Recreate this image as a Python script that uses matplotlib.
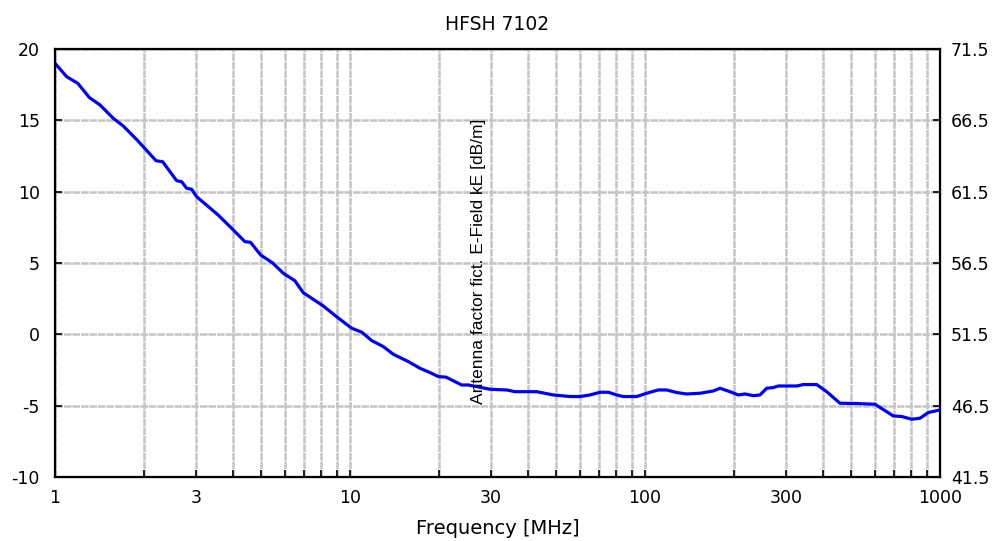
import matplotlib
matplotlib.use("Agg")
import matplotlib.pyplot as plt
from matplotlib.ticker import FixedLocator, NullFormatter

plt.rcParams['font.family'] = ['DejaVu Sans']
plt.rcParams['axes.unicode_minus'] = False

# antenna factor
freq_mhz = [1.0, 1.095, 1.194, 1.307, 1.42, 1.576, 1.704, 1.902, 2.2, 2.316,
            2.584, 2.686, 2.794, 2.904, 3.02, 3.57, 3.97, 4.4, 4.6, 4.98,
            5.47, 5.94, 6.5, 6.94, 8.1, 9.05, 10.13, 10.96, 11.85, 12.97,
            14.02, 15.76, 17.27, 18.67, 19.93, 21.16, 23.9, 25.18, 29.83, 33.98,
            36.25, 42.95, 48.9, 55.7, 60.2, 65.1, 70.4, 75.1, 80.2, 84.4,
            93.7, 101.3, 110.9, 118.4, 128.1, 138.5, 153.7, 170.4, 179.6, 194.1,
            207.2, 218.3, 232.9, 245.4, 258.5, 272.2, 283.0, 326.8, 344.1, 381.9,
            412.9, 458.1, 521.9, 602.1, 694.5, 741.6, 801.9, 855.5, 912.9, 1000.0]
af_db = [19.0, 18.06, 17.6, 16.6, 16.08, 15.14, 14.6, 13.6, 12.17, 12.1,
         10.77, 10.7, 10.24, 10.17, 9.65, 8.37, 7.43, 6.5, 6.45, 5.56,
         5.0, 4.28, 3.76, 2.92, 2.0, 1.2, 0.43, 0.15, -0.44, -0.86,
         -1.4, -1.91, -2.38, -2.68, -2.96, -3.0, -3.55, -3.55, -3.85, -3.9,
         -4.02, -4.02, -4.25, -4.36, -4.36, -4.25, -4.06, -4.06, -4.25, -4.36,
         -4.36, -4.13, -3.9, -3.9, -4.08, -4.18, -4.13, -3.97, -3.78, -4.02,
         -4.25, -4.18, -4.3, -4.25, -3.78, -3.73, -3.62, -3.62, -3.52, -3.52,
         -4.02, -4.83, -4.85, -4.9, -5.72, -5.76, -5.95, -5.88, -5.48, -5.3]

left_ticks = [-10, -5, 0, 5, 10, 15, 20]
right_ticks = [41.5, 46.5, 51.5, 56.5, 61.5, 66.5, 71.5]
x_ticks = [1, 3, 10, 30, 100, 300, 1000]
x_labels = ["1", "3", "10", "30", "100", "300", "1000"]
grid_x = [m * d for d in (1, 10, 100) for m in range(1, 10)] + [1000]

fig = plt.figure(figsize=(10.06, 5.41), dpi=100)
ax = fig.add_axes([0.0547, 0.1183, 0.8797, 0.7911])

grid_style = dict(color='#c4c4c4', lw=1.8, ls=(0, (3, 0.4)), zorder=0)
for gx in grid_x:
    ax.axvline(gx, **grid_style)
for gy in left_ticks:
    ax.axhline(gy, **grid_style)

ax.plot(freq_mhz, af_db, color='#0000ff', lw=2.3, zorder=3)

ax.set_xscale('log')
ax.set_xlim(1, 1000)
ax.set_ylim(-10, 20)
ax.xaxis.set_major_locator(FixedLocator(x_ticks))
ax.set_xticklabels(x_labels)
ax.xaxis.set_minor_locator(FixedLocator(grid_x))
ax.xaxis.set_minor_formatter(NullFormatter())
ax.set_yticks(left_ticks)

ax.tick_params(axis='x', which='both', direction='in', length=5, width=1.2,
               labelsize=12.5, pad=9)
ax.tick_params(axis='y', direction='in', length=5, width=1.2,
               labelsize=12.5, pad=11)
for s in ax.spines.values():
    s.set_linewidth(1.6)

ax2 = ax.twinx()
ax2.set_ylim(41.5, 71.5)
ax2.set_yticks(right_ticks)
ax2.set_yticklabels([f"{v:.1f}" for v in right_ticks])
ax2.tick_params(axis='y', direction='in', length=5, width=1.2,
                labelsize=12.5, pad=8)

ax.set_xlabel("Frequency [MHz]", fontsize=14, labelpad=8)
ax.set_title("HFSH 7102", fontsize=13.5, pad=14)
ax.text(0.478, 0.505, "Antenna factor fict. E-Field kE [dB/m]",
        transform=ax.transAxes, rotation=90, ha='center', va='center',
        fontsize=12.5, family='Liberation Sans', zorder=4)

fig.savefig("out.png", dpi=100)
